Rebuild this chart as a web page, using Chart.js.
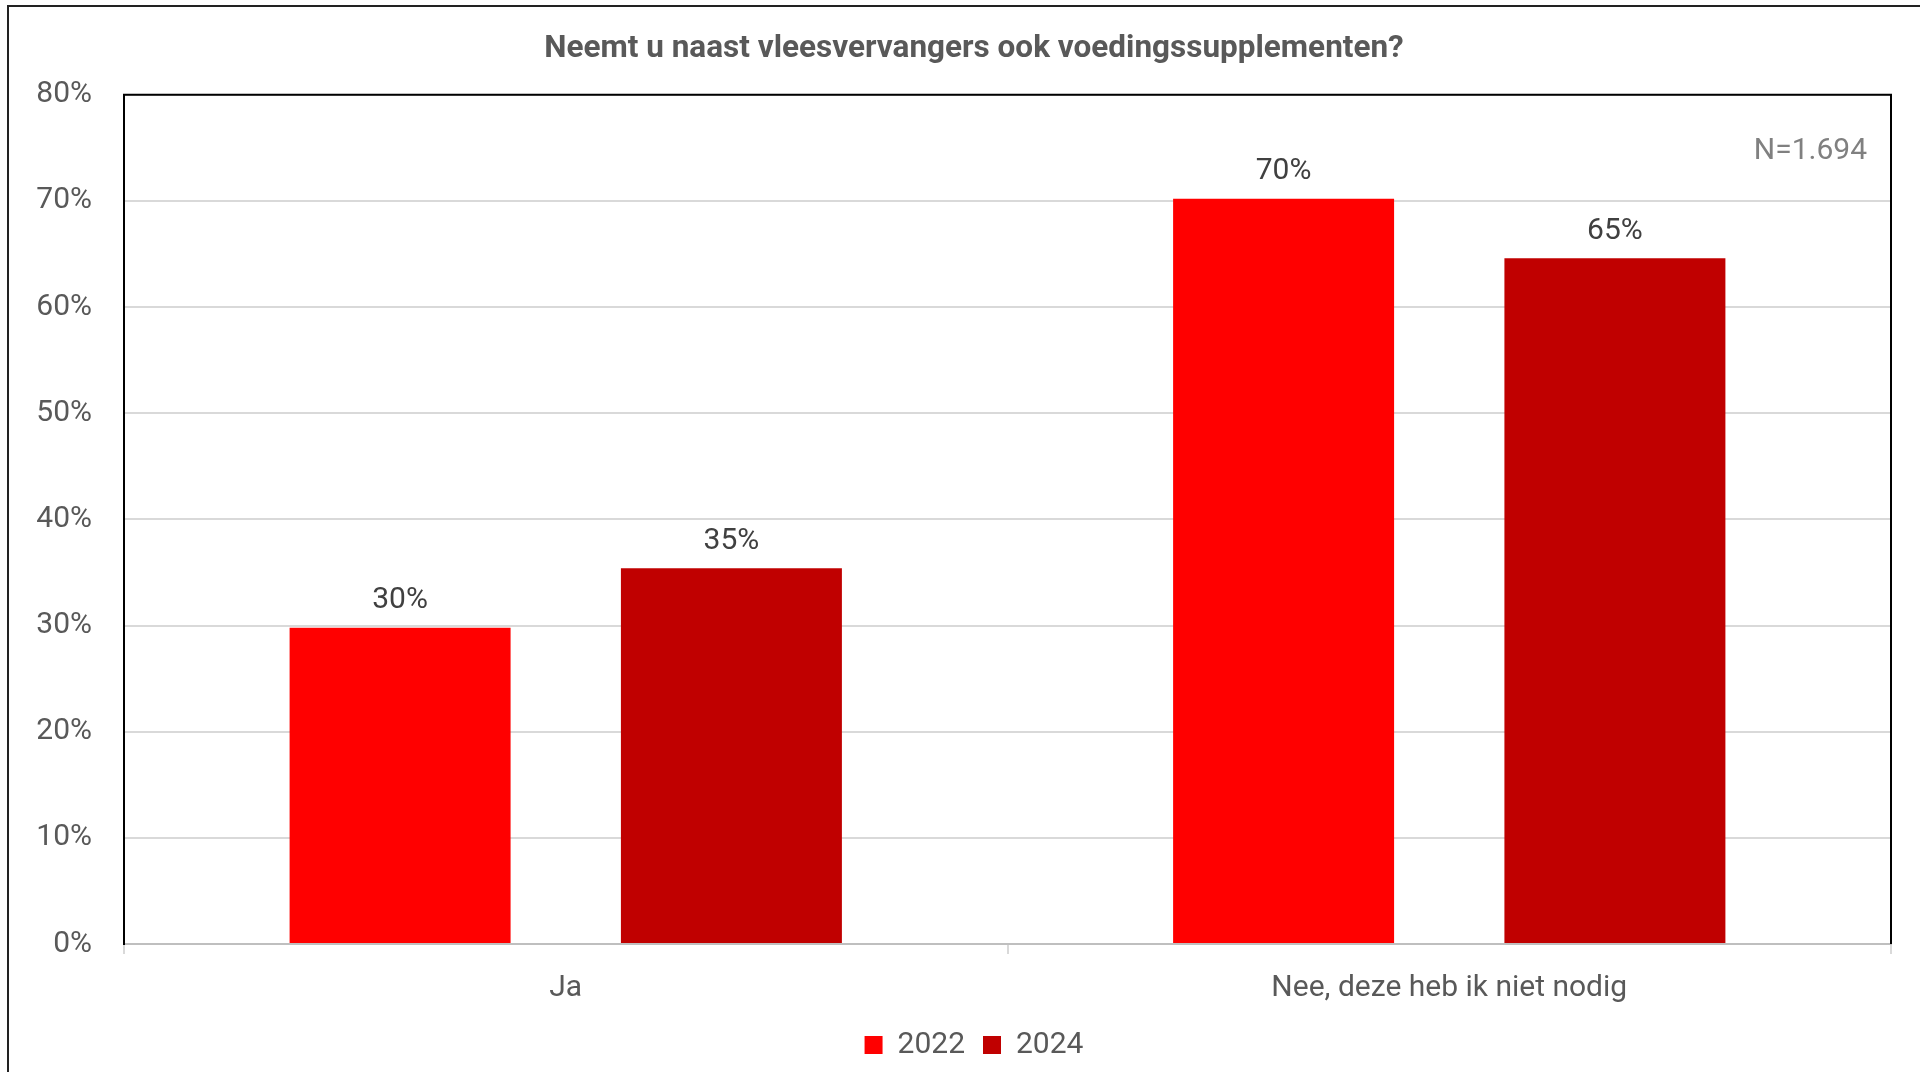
<!DOCTYPE html>
<html>
<head>
<meta charset="utf-8">
<script src="https://cdn.jsdelivr.net/npm/chart.js@4.4.1/dist/chart.umd.min.js"></script>
<style>
  html, body { margin: 0; padding: 0; background: #fff; overflow: hidden; width: 1920px; height: 1072px; }
  #frame { position: absolute; left: 7px; top: 5px; width: 1986px; height: 1080px; border: 2px solid #222; }
  canvas { display: block; }
</style>
</head>
<body>
<div id="frame"><canvas id="c" width="1930" height="1063"></canvas></div>
<script>
const titleText = "Neemt u naast vleesvervangers ook voedingssupplementen?";
const categories = ["Ja", "Nee, deze heb ik niet nodig"];
const seriesNames = ["2022", "2024"];
const values2022 = [29.8, 70.2];
const values2024 = [35.4, 64.6];
const dataLabels2022 = ["30%", "70%"];
const dataLabels2024 = ["35%", "65%"];
const yTicksMax = 80;
const yTicksStep = 10;
const noteText = "N=1.694";

const FONT = "Roboto, 'Open Sans', sans-serif";

const plotFrame = {
  id: 'plotFrame',
  afterDraw(chart) {
    const { ctx, chartArea: a } = chart;
    ctx.save();
    ctx.strokeStyle = '#000';
    ctx.lineWidth = 2;
    ctx.beginPath();
    ctx.moveTo(a.left, a.bottom);
    ctx.lineTo(a.left, a.top);
    ctx.lineTo(a.right, a.top);
    ctx.lineTo(a.right, a.bottom);
    ctx.stroke();
    // note
    ctx.fillStyle = '#808080';
    ctx.font = '30px ' + FONT;
    ctx.textAlign = 'right';
    ctx.textBaseline = 'middle';
    ctx.fillText(noteText, a.right - 24, a.top + 57);
    // data labels
    const lbls = [dataLabels2022, dataLabels2024];
    ctx.fillStyle = '#404040';
    ctx.textAlign = 'center';
    chart.data.datasets.forEach((ds, i) => {
      const meta = chart.getDatasetMeta(i);
      meta.data.forEach((bar, j) => {
        ctx.fillText(lbls[i][j], bar.x, bar.y - 27);
      });
    });
    ctx.restore();
  }
};

new Chart(document.getElementById('c'), {
  type: 'bar',
  data: {
    labels: categories,
    datasets: [
      { label: seriesNames[0], data: values2022, backgroundColor: '#FF0000', borderWidth: 0 },
      { label: seriesNames[1], data: values2024, backgroundColor: '#C00000', borderWidth: 0 }
    ]
  },
  options: {
    responsive: false,
    devicePixelRatio: 1,
    animation: false,
    categoryPercentage: 0.75,
    barPercentage: 0.667,
    layout: { padding: { left: 0, right: 0, top: 0, bottom: 0 } },
    plugins: {
      title: {
        display: true,
        text: titleText,
        color: '#595959',
        font: { family: FONT, size: 31.5, weight: 'bold' },
        padding: { top: 23, bottom: 27 }
      },
      legend: {
        position: 'bottom',
        labels: {
          color: '#595959',
          font: { family: FONT, size: 30 },
          boxWidth: 18,
          boxHeight: 18,
          padding: 18
        }
      },
      tooltip: { enabled: false }
    },
    scales: {
      x: {
        afterFit(scale) { scale.height -= 10; },
        grid: { offset: true, drawOnChartArea: false, drawTicks: true, tickLength: 10, color: '#d9d9d9', lineWidth: 2 },
        border: { color: '#bfbfbf', width: 2 },
        ticks: { color: '#595959', font: { family: FONT, size: 30, lineHeight: 1.0 }, padding: 19 }
      },
      y: {
        min: 0,
        max: yTicksMax,
        afterFit(scale) { scale.width = 115; },
        grid: { color: '#d9d9d9', lineWidth: 2, drawTicks: false },
        border: { color: '#000', width: 2 },
        ticks: {
          stepSize: yTicksStep,
          color: '#595959',
          font: { family: FONT, size: 30 },
          padding: 32,
          callback: v => v + '%'
        }
      },
      spacer: {
        type: 'linear',
        position: 'right',
        display: true,
        afterFit(scale) { scale.width = 48; },
        grid: { display: false, drawTicks: false },
        border: { display: false },
        ticks: { display: false }
      }
    }
  },
  plugins: [plotFrame]
});
</script>
</body>
</html>
